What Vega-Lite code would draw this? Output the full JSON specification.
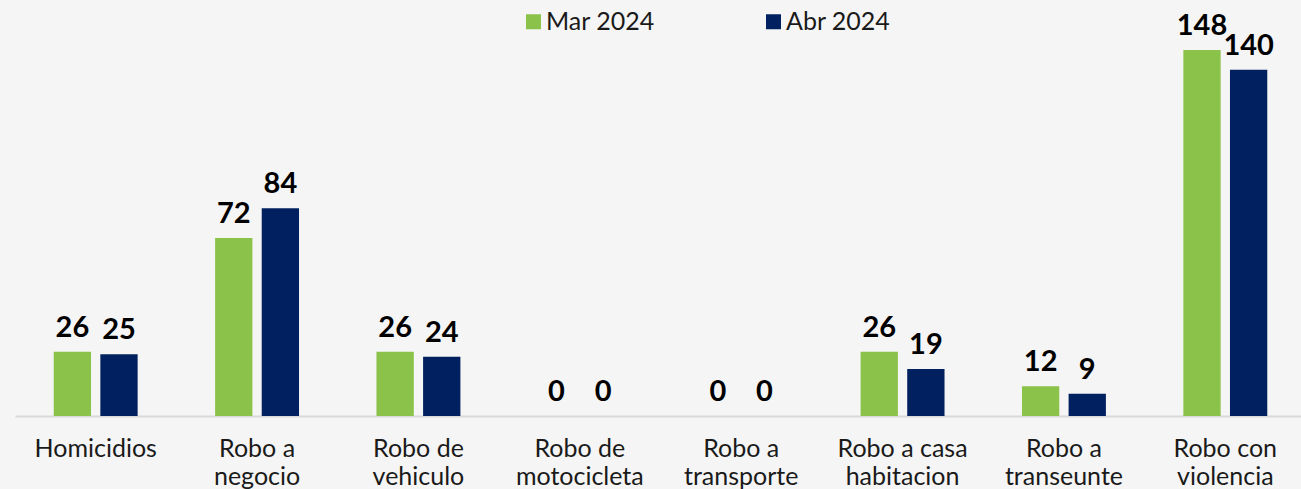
{
  "$schema": "https://vega.github.io/schema/vega-lite/v6.json",
  "width": 1291,
  "height": 416,
  "autosize": {"type": "none"},
  "padding": {"left": 15, "top": 0, "right": 0, "bottom": 73},
  "background": "#f5f5f5",
  "config": {"view": {"stroke": null}, "font": "Lato"},
  "data": {
    "values": [
      {"categoria": "Homicidios", "periodo": "Mar 2024", "valor": 26},
      {"categoria": "Homicidios", "periodo": "Abr 2024", "valor": 25},
      {"categoria": "Robo a negocio", "periodo": "Mar 2024", "valor": 72},
      {"categoria": "Robo a negocio", "periodo": "Abr 2024", "valor": 84},
      {"categoria": "Robo de vehiculo", "periodo": "Mar 2024", "valor": 26},
      {"categoria": "Robo de vehiculo", "periodo": "Abr 2024", "valor": 24},
      {"categoria": "Robo de motocicleta", "periodo": "Mar 2024", "valor": 0},
      {"categoria": "Robo de motocicleta", "periodo": "Abr 2024", "valor": 0},
      {"categoria": "Robo a transporte", "periodo": "Mar 2024", "valor": 0},
      {"categoria": "Robo a transporte", "periodo": "Abr 2024", "valor": 0},
      {"categoria": "Robo a casa habitacion", "periodo": "Mar 2024", "valor": 26},
      {"categoria": "Robo a casa habitacion", "periodo": "Abr 2024", "valor": 19},
      {"categoria": "Robo a transeunte", "periodo": "Mar 2024", "valor": 12},
      {"categoria": "Robo a transeunte", "periodo": "Abr 2024", "valor": 9},
      {"categoria": "Robo con violencia", "periodo": "Mar 2024", "valor": 148},
      {"categoria": "Robo con violencia", "periodo": "Abr 2024", "valor": 140}
    ]
  },
  "encoding": {
    "x": {
      "field": "categoria",
      "type": "nominal",
      "sort": null,
      "scale": {"paddingInner": 0.48, "paddingOuter": 0.24},
      "axis": {
        "title": null,
        "labelAngle": 0,
        "ticks": false,
        "domainColor": "#d9d9d9",
        "domainWidth": 2,
        "labelFont": "Lato",
        "labelFontSize": 25,
        "labelColor": "#1a1a1a",
        "labelPadding": 20,
        "labelLineHeight": 28,
        "labelBaseline": "top",
        "labelLimit": 300,
        "labelExpr": "indexof(datum.value,' ') < 0 ? datum.value : [substring(datum.value,0,lastindexof(datum.value,' ')), substring(datum.value,lastindexof(datum.value,' ')+1)]"
      }
    },
    "xOffset": {"field": "periodo", "sort": ["Mar 2024", "Abr 2024"], "scale": {"paddingInner": 0.2}},
    "y": {"field": "valor", "type": "quantitative", "scale": {"domain": [0, 168.2], "nice": false}, "axis": null}
  },
  "layer": [
    {
      "mark": {"type": "bar"},
      "encoding": {
        "color": {
          "field": "periodo",
          "type": "nominal",
          "sort": ["Mar 2024", "Abr 2024"],
          "scale": {"domain": ["Mar 2024", "Abr 2024"], "range": ["#8BC24A", "#002060"]},
          "legend": {
            "title": null,
            "orient": "none",
            "direction": "horizontal",
            "legendX": 506,
            "legendY": 9,
            "padding": 0,
            "symbolType": "square",
            "symbolSize": 225,
            "symbolStrokeWidth": 0,
            "labelFont": "Lato",
            "labelFontSize": 25,
            "labelColor": "#1a1a1a",
            "labelOffset": 0,
            "columnPadding": 106
          }
        }
      }
    },
    {
      "mark": {"type": "text", "baseline": "alphabetic", "dy": -15, "font": "Lato", "fontSize": 29, "fontWeight": "bold", "color": "#000000"},
      "encoding": {"text": {"field": "valor", "type": "quantitative"}}
    }
  ]
}
